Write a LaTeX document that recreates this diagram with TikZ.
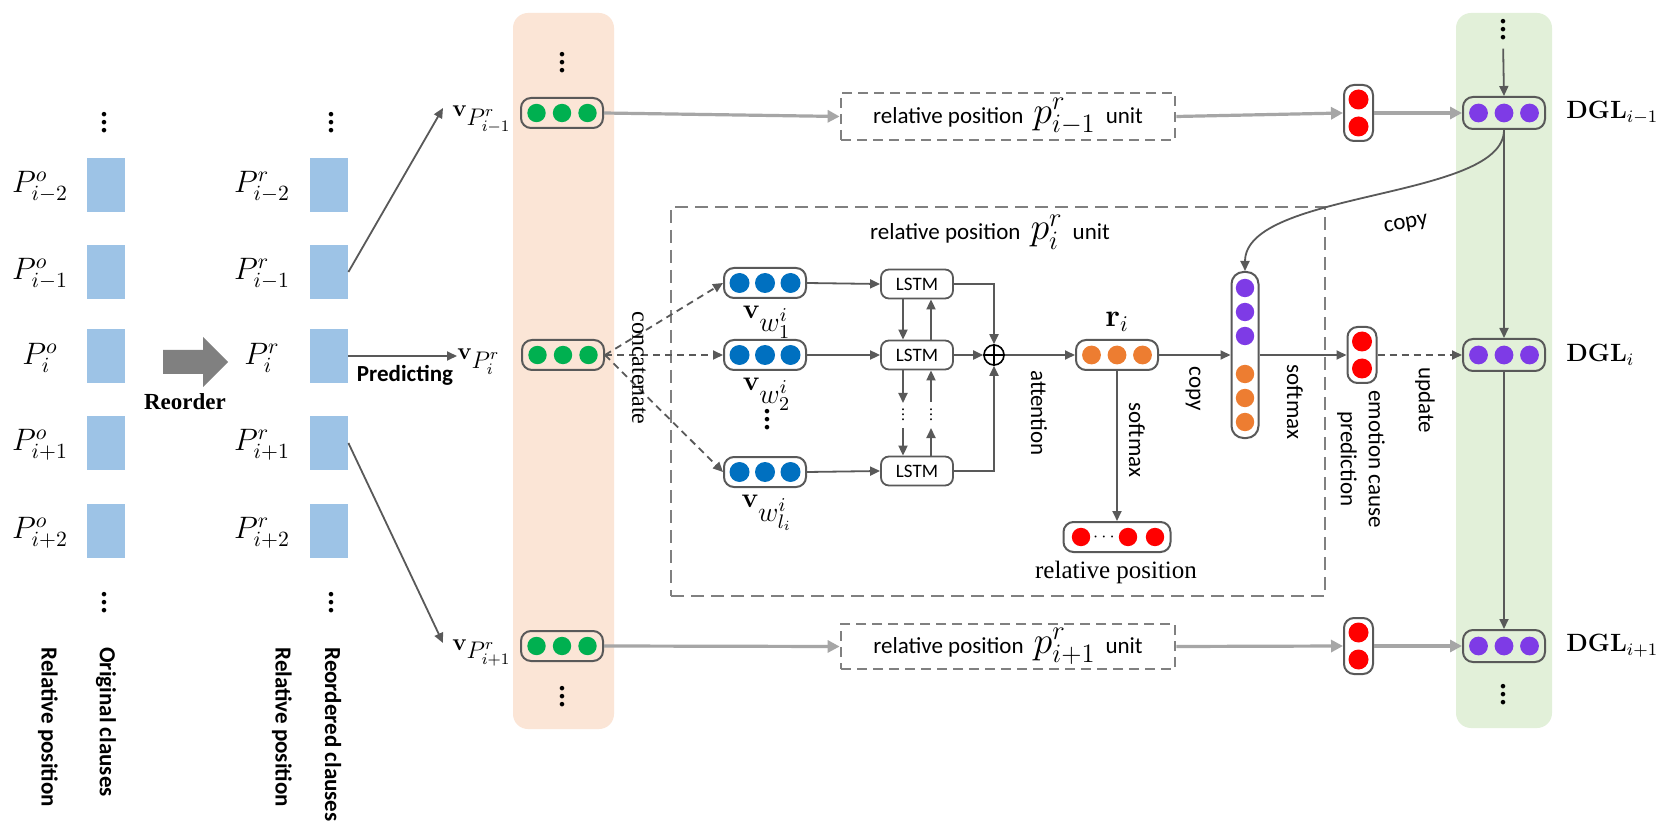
\RequirePackage{fix-cm}
\documentclass[tikz,border=0pt]{standalone}
\usepackage[no-math]{fontspec}
\setmainfont{Liberation Serif}
\setsansfont{Carlito}
\usetikzlibrary{arrows.meta}
\definecolor{dg}{HTML}{595959}
\definecolor{lg}{HTML}{A6A6A6}
\definecolor{dashg}{HTML}{808080}
\definecolor{arrowgray}{HTML}{808080}
\definecolor{rectblue}{HTML}{9DC3E6}
\definecolor{panelor}{HTML}{FBE5D6}
\definecolor{panelgr}{HTML}{E2F0D9}
\definecolor{cgreen}{HTML}{00B050}
\definecolor{cblue}{HTML}{0070C0}
\definecolor{corange}{HTML}{ED7D31}
\definecolor{cred}{HTML}{FF0000}
\definecolor{cpurple}{HTML}{7E3BE6}
\newcommand{\bigvdots}{\vbox{\baselineskip=4pt\lineskiplimit=0pt\hbox{.}\hbox{.}\hbox{.}}}
\newcommand{\smallvdots}{\vbox{\baselineskip=2.6pt\lineskiplimit=0pt\hbox{.}\hbox{.}\hbox{.}}}
\newcommand{\hcircs}[3]{\foreach \dx in {-12.75,0,12.75}{\fill[#2] ([xshift=\dx pt]#1) circle[radius=#3];}}
\newcommand{\paircircs}[1]{\foreach \dy in {-6.75,6.75}{\fill[cred] ([yshift=\dy pt]#1) circle[radius=5pt];}}
\tikzset{
  panel/.style={rounded corners=7.5pt, inner sep=0pt, draw=none},
  vec/.style={draw=dg, line width=1pt, rounded corners=5pt, minimum width=41pt, minimum height=15pt, inner sep=0pt},
  pairbox/.style={draw=dg, line width=1pt, rounded corners=5pt, minimum width=14.5pt, minimum height=28pt, inner sep=0pt},
  lstm/.style={draw=dg, line width=0.9pt, rounded corners=4pt, minimum width=36pt, minimum height=14.5pt, inner sep=0pt, font=\sffamily\fontsize{9.5}{10}\selectfont},
  clause/.style={fill=rectblue, minimum width=19pt, minimum height=27pt, inner sep=0pt},
  dashbox/.style={draw=dashg, line width=1.35pt, dash pattern=on 5pt off 3pt, inner sep=0pt, font=\sffamily\fontsize{11.5}{13}\selectfont},
  bigdash/.style={draw=dashg, line width=1.35pt, dash pattern=on 6.5pt off 3.5pt, inner sep=0pt},
  conn/.style={draw=dg, line width=0.9pt, -{Triangle[length=5pt,width=4.5pt]}},
  lconn/.style={draw=lg, line width=1.6pt, -{Triangle[length=6pt,width=6pt]}},
  dconn/.style={draw=dg, line width=0.9pt, dash pattern=on 3.5pt off 2.5pt, -{Triangle[length=5pt,width=4.5pt]}},
  sf/.style={font=\sffamily\fontsize{11.5}{14}\selectfont, inner sep=1pt},
  sfb/.style={font=\sffamily\bfseries\fontsize{11.5}{14}\selectfont, inner sep=1pt},
  srf/.style={font=\rmfamily\fontsize{12}{14}\selectfont, inner sep=1pt},
  plab/.style={font=\fontsize{15.5}{17}\selectfont, inner sep=0pt},
  vlab/.style={font=\fontsize{12}{14}\selectfont, inner sep=0pt},
  wlab/.style={font=\fontsize{14}{16}\selectfont, inner sep=0pt},
  dgl/.style={font=\fontsize{12.5}{14}\selectfont, inner sep=0pt},
  dotsn/.style={font=\bfseries\fontsize{14}{14}\selectfont, inner sep=0pt},
  sdotsn/.style={font=\fontsize{8}{8}\selectfont, inner sep=0pt}
}
\begin{document}
\begin{tikzpicture}[x=0.5pt,y=-0.5pt]
\fill[white] (0,0) rectangle (1661,834);
\useasboundingbox (0,0) rectangle (1661,834);

% panels
\node[panel, fill=panelor, minimum width=50.5pt, minimum height=358pt] (opanel) at (563.5,371) {};
\node[panel, fill=panelgr, minimum width=48pt, minimum height=357.5pt] (gpanel) at (1504,370.5) {};

% clauses
\foreach \n/\y in {1/185,2/272,3/356,4/443,5/531} {
  \node[clause] (L\n) at (106,\y) {};
  \node[clause] (R\n) at (329,\y) {};
}
\node[plab] (lo1) at (40,187) {$P^o_{i-2}$};
\node[plab] (lo2) at (40,274) {$P^o_{i-1}$};
\node[plab] (lo3) at (40,358) {$P^o_{i}$};
\node[plab] (lo4) at (40,445) {$P^o_{i+1}$};
\node[plab] (lo5) at (40,533) {$P^o_{i+2}$};
\node[plab] (lr1) at (262,187) {$P^r_{i-2}$};
\node[plab] (lr2) at (262,274) {$P^r_{i-1}$};
\node[plab] (lr3) at (262,358) {$P^r_{i}$};
\node[plab] (lr4) at (262,445) {$P^r_{i+1}$};
\node[plab] (lr5) at (262,533) {$P^r_{i+2}$};
\node[dotsn] (ld1) at (104,123) {\bigvdots};
\node[dotsn] (rd1) at (331,123) {\bigvdots};
\node[dotsn] (ld2) at (104,603) {\bigvdots};
\node[dotsn] (rd2) at (331,603) {\bigvdots};
\node[sfb, rotate=-90, anchor=west] (vt1) at (48,645) {Relative position};
\node[sfb, rotate=-90, anchor=west] (vt2) at (106,645) {Original clauses};
\node[sfb, rotate=-90, anchor=west] (vt3) at (282,645) {Relative position};
\node[sfb, rotate=-90, anchor=west] (vt4) at (333,645) {Reordered clauses};

% reorder arrow
\fill[arrowgray] (163,350) -- (203,350) -- (203,337) -- (228,362) -- (203,387) -- (203,374) -- (163,374) -- cycle;
\node[font=\rmfamily\bfseries\fontsize{11.5}{14}\selectfont, inner sep=0pt] (reot) at (185,402) {Reorder};

% v labels and green boxes
\node[vlab, anchor=base west] (vPa) at (452,117) {$\mathbf{v}_{\textstyle P^r_{i-1}}$};
\node[vlab, anchor=base west] (vPb) at (457,360) {$\mathbf{v}_{\textstyle P^r_{i}}$};
\node[vlab, anchor=base west] (vPc) at (452,650) {$\mathbf{v}_{\textstyle P^r_{i+1}}$};
\coordinate (tipA) at (443,108);
\coordinate (tipC) at (443,643);
\draw[conn] (R2.east) -- (tipA);
\draw[conn] (R4.east) -- (tipC);
\draw[conn] (R3.east) -- (R3.east -| vPb.west);
\node[sfb] (pred) at (405,375) {Predicting};

\node[dotsn] (od1) at (562,63) {\bigvdots};
\node[dotsn] (od2) at (562,697) {\bigvdots};
\node[vec] (ga) at (562,113) {};
\node[vec] (gb) at (563,355) {};
\node[vec] (gc) at (562,646) {};
\hcircs{ga}{cgreen}{4.6pt}
\hcircs{gb}{cgreen}{4.6pt}
\hcircs{gc}{cgreen}{4.6pt}

% top and bottom rows
\node[dashbox, minimum width=167pt, minimum height=23.5pt] (da) at (1008,116.5) {relative position\hspace{5pt}{\fontsize{19}{20}\selectfont$p^r_{i-1}$}\hspace{5pt}unit};
\node[dashbox, minimum width=167pt, minimum height=22.5pt] (dc) at (1008,646.5) {relative position\hspace{5pt}{\fontsize{19}{20}\selectfont$p^r_{i+1}$}\hspace{5pt}unit};
\node[pairbox] (ra) at (1358.5,113) {};
\node[pairbox] (rc) at (1358.5,646) {};
\paircircs{ra}
\paircircs{rc}
\node[vec, minimum height=16pt] (pa) at (1504,113) {};
\node[vec, minimum height=16pt] (pb) at (1504,355) {};
\node[vec, minimum height=16pt] (pc) at (1504,646) {};
\hcircs{pa}{cpurple}{4.7pt}
\hcircs{pb}{cpurple}{4.7pt}
\hcircs{pc}{cpurple}{4.7pt}
\node[dgl, anchor=west] (dgla) at (1566,113) {$\mathbf{DGL}_{i-1}$};
\node[dgl, anchor=west] (dglb) at (1566,355) {$\mathbf{DGL}_{i}$};
\node[dgl, anchor=west] (dglc) at (1566,646) {$\mathbf{DGL}_{i+1}$};
\draw[lconn] (ga.east) -- (da.west);
\draw[lconn] (da.east) -- (ra.west);
\draw[lconn] (ra.east) -- (pa.west);
\draw[lconn] (gc.east) -- (dc.west);
\draw[lconn] (dc.east) -- (rc.west);
\draw[lconn] (rc.east) -- (pc.west);
\node[dotsn] (gd1) at (1503,30) {\bigvdots};
\node[dotsn] (gd2) at (1503,695) {\bigvdots};
\draw[conn, shorten <=4pt] (gd1.south) -- (pa.north);
\draw[conn] (pa.south) -- (pb.north);
\draw[conn] (pb.south) -- (pc.north);

% big unit box
\node[bigdash, minimum width=327pt, minimum height=194.5pt] (bigbox) at (998,401.5) {};
\node[sf] (bigt) at (990,232) {relative position\hspace{5pt}{\fontsize{19}{20}\selectfont$p^r_{i}$}\hspace{5pt}unit};

\node[vec] (b1) at (765,283) {};
\node[vec] (b2) at (765,355) {};
\node[vec] (b3) at (765,472) {};
\hcircs{b1}{cblue}{5pt}
\hcircs{b2}{cblue}{5pt}
\hcircs{b3}{cblue}{5pt}
\node[wlab] (wl1) at (767,322) {$\mathbf{v}_{\textstyle w^i_1}$};
\node[wlab] (wl2) at (767,394) {$\mathbf{v}_{\textstyle w^i_2}$};
\node[dotsn] (wd) at (767,420) {\bigvdots};
\node[wlab] (wl3) at (767,513) {$\mathbf{v}_{\textstyle w^i_{l_i}}$};
\draw[dconn] (gb.east) -- (b1.west);
\draw[dconn] (gb.east) -- (b2.west);
\draw[dconn] (gb.east) -- (b3.west);
\node[srf, rotate=-90] (conc) at (639,368) {concatenate};

\node[lstm] (l1) at (917,284) {LSTM};
\node[lstm] (l2) at (917,355) {LSTM};
\node[lstm] (l3) at (917,471) {LSTM};
\draw[conn] (b1.east) -- (l1.west);
\draw[conn] (b2.east) -- (l2.west);
\draw[conn] (b3.east) -- (l3.west);
\draw[conn] ([xshift=-7pt]l1.south) -- ([xshift=-7pt]l2.north);
\draw[conn] ([xshift=7pt]l2.north) -- ([xshift=7pt]l1.south);
\coordinate (ca) at (903,403);
\coordinate (cb) at (903,428);
\coordinate (cc) at (931,402);
\coordinate (cd) at (931,428);
\draw[conn] ([xshift=-7pt]l2.south) -- (ca);
\draw[conn] (cb) -- ([xshift=-7pt]l3.north);
\draw[conn] (cc) -- ([xshift=7pt]l2.south);
\draw[conn] ([xshift=7pt]l3.north) -- (cd);
\node[sdotsn] (sd1) at (903,415) {\smallvdots};
\node[sdotsn] (sd2) at (931,415) {\smallvdots};

\node[circle, draw=black, line width=0.8pt, minimum size=10pt, inner sep=0pt] (op) at (994,355) {};
\draw[black, line width=0.8pt] (op.north) -- (op.south) (op.west) -- (op.east);
\draw[conn] (l1.east) -| (op.north);
\draw[conn] (l3.east) -| (op.south);
\draw[conn] (l2.east) -- (op.west);

\node[vec] (rb) at (1117,355) {};
\hcircs{rb}{corange}{4.7pt}
\node[font=\fontsize{16}{18}\selectfont, inner sep=0pt] (rl) at (1117,322) {$\mathbf{r}_i$};
\draw[conn] (op.east) -- (rb.west);
\node[sf, rotate=-90] (att) at (1039,413) {attention};

\node[vec, minimum width=53.5pt] (rp) at (1117,537) {};
\fill[cred] ([xshift=-18pt]rp.center) circle[radius=4.6pt];
\fill[cred] ([xshift=5.5pt]rp.center) circle[radius=4.6pt];
\fill[cred] ([xshift=19pt]rp.center) circle[radius=4.6pt];
\node[font=\fontsize{9}{10}\selectfont, inner sep=0pt] (rpd) at (1104,537) {$\cdots$};
\node[font=\rmfamily\fontsize{12.5}{14}\selectfont, inner sep=1pt] (rpt) at (1116,572) {relative position};
\draw[conn] (rb.south) -- (rp.north);
\node[sf, rotate=-90] (sm1) at (1137,440) {softmax};

\node[vec, rounded corners=6pt, minimum width=13.5pt, minimum height=83pt] (tb) at (1245,355) {};
\foreach \dy in {33.5,21.5,9.5} {\fill[cpurple] ([yshift=\dy pt]tb.center) circle[radius=4.6pt];}
\foreach \dy in {-9.5,-21.5,-33.5} {\fill[corange] ([yshift=\dy pt]tb.center) circle[radius=4.6pt];}
\draw[conn] (rb.east) -- (tb.west);
\node[sf, rotate=-90] (cp1) at (1193,389) {copy};

\node[pairbox] (rm) at (1362,355) {};
\paircircs{rm}
\draw[conn] (tb.east) -- (rm.west);
\node[sf, rotate=-90] (sm2) at (1295,402) {softmax};
\node[sf, rotate=-90, align=center] (emo) at (1361,459) {emotion cause\\prediction};
\draw[dconn] (rm.east) -- (pb.west);
\node[sf, rotate=-90] (upd) at (1425,400) {update};

\draw[conn] (pa.south) .. controls (1504,200) and (1245,190) .. (tb.north);
\node[sf, rotate=9] (cp2) at (1406,225) {copy};
\end{tikzpicture}
\end{document}
